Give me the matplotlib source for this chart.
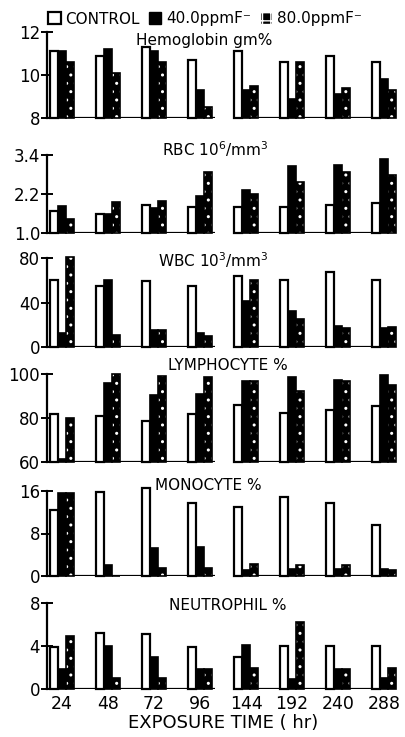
import numpy as np
import matplotlib
matplotlib.use("Agg")
import matplotlib.pyplot as plt
from matplotlib.patches import Patch

plt.rcParams['font.family'] = ['DejaVu Sans']
plt.rcParams['hatch.linewidth'] = 1.0

# exposure time groups (hr)
hours = ["24", "48", "72", "96", "144", "192", "240", "288"]

# values per panel: control, 40.0 ppm F-, 80.0 ppm F-
hgb_ctrl = [11.1, 10.9, 11.3, 10.7, 11.1, 10.6, 10.9, 10.6]
hgb_40 = [11.1, 11.2, 11.1, 9.3, 9.3, 8.9, 9.1, 9.8]
hgb_80 = [10.6, 10.1, 10.6, 8.5, 9.5, 10.6, 9.4, 9.3]

rbc_ctrl = [1.67, 1.6, 1.87, 1.8, 1.8, 1.8, 1.85, 1.93]
rbc_40 = [1.82, 1.6, 1.77, 2.15, 2.33, 3.07, 3.1, 3.28]
rbc_80 = [1.42, 1.95, 2.0, 2.87, 2.2, 2.57, 2.87, 2.8]

wbc_ctrl = [60, 54.5, 59, 54.5, 64, 60.5, 67, 60.5]
wbc_40 = [13, 60, 15, 12.5, 41.5, 32, 19, 17]
wbc_80 = [81, 11, 15, 10, 60.5, 25, 17, 18]

lym_ctrl = [82, 81, 78.5, 82, 86, 82.5, 83.5, 85.5]
lym_40 = [61.5, 96, 90.5, 91, 97, 98.5, 97.5, 99.5]
lym_80 = [80, 100, 99, 98.5, 97, 92.5, 97, 95]

mono_ctrl = [12.4, 15.8, 16.5, 13.7, 12.9, 14.9, 13.7, 9.6]
mono_40 = [15.6, 2.0, 5.2, 5.4, 1.1, 1.25, 1.25, 1.4]
mono_80 = [15.6, 0.0, 1.5, 1.5, 2.2, 2.0, 2.0, 1.1]

neu_ctrl = [3.9, 5.2, 5.1, 3.9, 3.0, 4.0, 4.0, 4.0]
neu_40 = [1.9, 4.0, 2.95, 1.9, 4.1, 0.9, 1.9, 1.0]
neu_80 = [4.9, 1.0, 1.0, 1.9, 2.0, 6.2, 1.9, 2.0]

panels = [
    ("Hemoglobin gm%", hgb_ctrl, hgb_40, hgb_80, (8, 12), [8, 10, 12], ["8", "10", "12"]),
    ("RBC 10$^6$/mm$^3$", rbc_ctrl, rbc_40, rbc_80, (1.0, 3.4), [1.0, 2.2, 3.4], ["1.0", "2.2", "3.4"]),
    ("WBC 10$^3$/mm$^3$", wbc_ctrl, wbc_40, wbc_80, (0, 80), [0, 40, 80], ["0", "40", "80"]),
    ("LYMPHOCYTE %", lym_ctrl, lym_40, lym_80, (60, 100), [60, 80, 100], ["60", "80", "100"]),
    ("MONOCYTE %", mono_ctrl, mono_40, mono_80, (0, 16), [0, 8, 16], ["0", "8", "16"]),
    ("NEUTROPHIL %", neu_ctrl, neu_40, neu_80, (0, 8), [0, 4, 8], ["0", "4", "8"]),
]

W, H = 406, 737
fig = plt.figure(figsize=(W / 100, H / 100), dpi=100)

# panel boxes in pixels (top, bottom) and title centre (x, y)
boxes = [(32, 118), (155, 233), (258, 347), (374, 462), (491, 576), (603, 689)]
title_pos = [(204, 40), (215, 149), (213, 260), (228, 366), (208, 486), (228, 605)]
left_px, right_px = 47, 400

x = np.arange(len(hours))
w = 0.17
xmin, xmax = -0.33, 7.35
brk_lo, brk_hi = x[3] + 0.33, x[4] - 0.27

for i, (title, c, a, b, ylim, yt, ytl) in enumerate(panels):
    top, bot = boxes[i]
    ax = fig.add_axes([left_px / W, 1 - bot / H, (right_px - left_px) / W, (bot - top) / H])
    y0 = ylim[0]
    c, a, b = np.array(c), np.array(a), np.array(b)
    ax.bar(x - w, c - y0, w, bottom=y0, facecolor="white", edgecolor="black", lw=1.6, zorder=3, clip_on=False)
    ax.bar(x, a - y0, w, bottom=y0, facecolor="black", edgecolor="black", lw=1.2, zorder=3, clip_on=False)
    ax.bar(x + w, b - y0, w, bottom=y0, facecolor="black", edgecolor="white", hatch="..", lw=0, zorder=3, clip_on=False)
    ax.bar(x + w, b - y0, w, bottom=y0, facecolor="none", edgecolor="black", lw=1.2, zorder=4, clip_on=False)
    # broken baseline
    ax.hlines(y0, xmin, brk_lo, color="black", lw=1.6, zorder=2)
    ax.hlines(y0, brk_hi, x[-1] + w * 1.6, color="black", lw=1.6, zorder=2)
    ax.set_xlim(xmin, xmax)
    ax.set_ylim(ylim)
    for s in ["top", "right", "bottom"]:
        ax.spines[s].set_visible(False)
    ax.spines["left"].set_linewidth(1.6)
    ax.set_yticks(yt)
    ax.set_yticklabels(ytl, fontsize=12)
    ax.tick_params(axis="y", direction="inout", length=8, width=1.4, pad=1)
    if i < len(panels) - 1:
        ax.set_xticks([])
    else:
        ax.set_xticks(x)
        ax.set_xticklabels(hours, fontsize=12.5)
        ax.tick_params(axis="x", length=0, pad=4)
        ax.set_xlabel("EXPOSURE TIME ( hr)", fontsize=13, labelpad=1)
    tx, ty = title_pos[i]
    fig.text(tx / W, 1 - ty / H, title, fontsize=11, ha="center", va="center")

handles = [
    Patch(facecolor="white", edgecolor="black", lw=1.6, label="CONTROL"),
    Patch(facecolor="black", edgecolor="black", label="40.0ppmF\u207b"),
    Patch(facecolor="black", edgecolor="white", hatch="++", label="80.0ppmF\u207b"),
]
fig.legend(handles=handles, loc="center", bbox_to_anchor=(205 / W, 1 - 19 / H), ncol=3,
           frameon=False, fontsize=11, handlelength=0.8, handleheight=0.8,
           handletextpad=0.3, columnspacing=0.6, borderpad=0)

fig.savefig("out.png", dpi=100)
